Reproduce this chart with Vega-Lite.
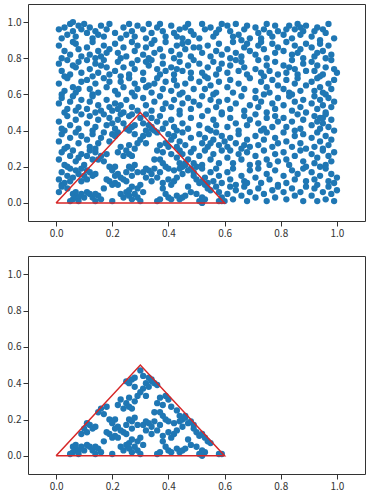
{
"$schema":"https://vega.github.io/schema/vega-lite/v6.json",
"padding":{"left":6,"top":3,"right":8,"bottom":4},
"spacing":16,
"config":{"view":{"stroke":"#333","strokeWidth":1},"axis":{"grid":false,"domain":false,"tickColor":"#333","tickSize":5,"labelColor":"#333","labelFont":"Noto Sans CJK JP","labelFontSize":10,"labelPadding":2}},
"datasets":{
"tri":[{"i":0,"x":0,"y":0},{"i":1,"x":0.3,"y":0.5},{"i":2,"x":0.6,"y":0},{"i":3,"x":0,"y":0}],
"pts":[
{"x":0.30,"y":0.47},{"x":0.31,"y":0.44},{"x":0.33,"y":0.43},{"x":0.34,"y":0.41},{"x":0.35,"y":0.40},{"x":0.32,"y":0.40},{"x":0.33,"y":0.38},{"x":0.31,"y":0.37},{"x":0.30,"y":0.35},{"x":0.29,"y":0.33},{"x":0.32,"y":0.33},{"x":0.34,"y":0.42},{"x":0.36,"y":0.39},{"x":0.27,"y":0.42},{"x":0.26,"y":0.40},{"x":0.28,"y":0.43},{"x":0.25,"y":0.41},{"x":0.28,"y":0.38},
{"x":0.37,"y":0.32},{"x":0.39,"y":0.33},{"x":0.40,"y":0.31},{"x":0.38,"y":0.28},{"x":0.41,"y":0.27},{"x":0.36,"y":0.29},{"x":0.35,"y":0.24},
{"x":0.23,"y":0.31},{"x":0.25,"y":0.29},{"x":0.24,"y":0.26},{"x":0.26,"y":0.27},{"x":0.27,"y":0.26},{"x":0.28,"y":0.30},{"x":0.26,"y":0.32},{"x":0.22,"y":0.28},
{"x":0.16,"y":0.26},{"x":0.17,"y":0.23},{"x":0.18,"y":0.27},{"x":0.15,"y":0.24},
{"x":0.10,"y":0.15},{"x":0.11,"y":0.18},{"x":0.12,"y":0.17},{"x":0.13,"y":0.15},{"x":0.14,"y":0.16},{"x":0.09,"y":0.12},{"x":0.11,"y":0.13},
{"x":0.19,"y":0.12},{"x":0.20,"y":0.10},{"x":0.18,"y":0.13},{"x":0.21,"y":0.11},{"x":0.17,"y":0.08},
{"x":0.06,"y":0.02},{"x":0.07,"y":0.04},{"x":0.08,"y":0.03},{"x":0.06,"y":0.05},{"x":0.09,"y":0.05},{"x":0.05,"y":0.01},{"x":0.10,"y":0.03},{"x":0.08,"y":0.01},{"x":0.07,"y":0.06},{"x":0.11,"y":0.06},{"x":0.12,"y":0.05},
{"x":0.13,"y":0.03},{"x":0.14,"y":0.01},{"x":0.15,"y":0.04},{"x":0.16,"y":0.02},{"x":0.14,"y":0.05},{"x":0.20,"y":0.01},
{"x":0.23,"y":0.05},{"x":0.24,"y":0.03},{"x":0.25,"y":0.06},{"x":0.26,"y":0.04},{"x":0.27,"y":0.02},{"x":0.28,"y":0.05},{"x":0.29,"y":0.08},{"x":0.30,"y":0.10},{"x":0.27,"y":0.09},{"x":0.25,"y":0.12},{"x":0.24,"y":0.13},{"x":0.22,"y":0.10},{"x":0.26,"y":0.07},{"x":0.29,"y":0.03},{"x":0.31,"y":0.06},{"x":0.30,"y":0.01},
{"x":0.31,"y":0.17},{"x":0.32,"y":0.19},{"x":0.33,"y":0.18},{"x":0.34,"y":0.16},{"x":0.35,"y":0.19},{"x":0.32,"y":0.14},{"x":0.34,"y":0.12},{"x":0.36,"y":0.14},{"x":0.37,"y":0.17},{"x":0.38,"y":0.11},
{"x":0.36,"y":0.01},{"x":0.37,"y":0.02},{"x":0.39,"y":0.05},{"x":0.40,"y":0.03},{"x":0.41,"y":0.02},{"x":0.43,"y":0.04},{"x":0.44,"y":0.02},{"x":0.45,"y":0.03},{"x":0.38,"y":0.08},{"x":0.41,"y":0.10},{"x":0.42,"y":0.12},{"x":0.40,"y":0.13},
{"x":0.43,"y":0.25},{"x":0.44,"y":0.22},{"x":0.45,"y":0.20},{"x":0.46,"y":0.21},{"x":0.44,"y":0.19},{"x":0.47,"y":0.18},{"x":0.45,"y":0.16},{"x":0.43,"y":0.14},{"x":0.48,"y":0.19},{"x":0.46,"y":0.22},{"x":0.42,"y":0.18},
{"x":0.50,"y":0.13},{"x":0.51,"y":0.11},{"x":0.52,"y":0.12},{"x":0.53,"y":0.10},{"x":0.54,"y":0.08},{"x":0.50,"y":0.05},{"x":0.52,"y":0.03},{"x":0.53,"y":0.02},{"x":0.51,"y":0.01},{"x":0.55,"y":0.07},{"x":0.49,"y":0.15},{"x":0.49,"y":0.17},
{"x":0.52,"y":0.00},{"x":0.59,"y":0.01},{"x":0.58,"y":0.01},
{"x":0.19,"y":0.20},{"x":0.21,"y":0.20},{"x":0.20,"y":0.18},{"x":0.22,"y":0.16},{"x":0.23,"y":0.14},{"x":0.21,"y":0.15},
{"x":0.26,"y":0.20},{"x":0.27,"y":0.19},{"x":0.28,"y":0.21},{"x":0.29,"y":0.17},{"x":0.27,"y":0.15},{"x":0.25,"y":0.17},
{"x":0.38,"y":0.22},{"x":0.39,"y":0.20},{"x":0.37,"y":0.24},{"x":0.40,"y":0.19},
{"x":0.47,"y":0.09},{"x":0.48,"y":0.06},{"x":0.46,"y":0.04},
{"x":0.01,"y":0.96},{"x":0.03,"y":0.97},{"x":0.05,"y":0.99},{"x":0.06,"y":0.95},{"x":0.08,"y":0.98},{"x":0.09,"y":0.96},{"x":0.04,"y":0.93},{"x":0.07,"y":0.92},{"x":0.02,"y":0.91},{"x":0.10,"y":0.99},{"x":0.06,"y":1.00},
{"x":0.11,"y":0.94},{"x":0.12,"y":0.97},{"x":0.14,"y":0.95},{"x":0.16,"y":0.98},{"x":0.18,"y":0.96},{"x":0.13,"y":0.91},{"x":0.17,"y":0.92},{"x":0.19,"y":0.99},{"x":0.15,"y":0.93},
{"x":0.21,"y":0.94},{"x":0.24,"y":0.97},{"x":0.26,"y":0.99},{"x":0.27,"y":0.95},{"x":0.29,"y":0.98},{"x":0.23,"y":0.91},{"x":0.28,"y":0.92},{"x":0.25,"y":0.93},
{"x":0.31,"y":0.96},{"x":0.33,"y":0.99},{"x":0.34,"y":0.94},{"x":0.36,"y":0.97},{"x":0.38,"y":0.95},{"x":0.39,"y":0.92},{"x":0.32,"y":0.91},{"x":0.37,"y":0.99},{"x":0.35,"y":0.90},
{"x":0.41,"y":0.98},{"x":0.42,"y":0.94},{"x":0.44,"y":0.96},{"x":0.45,"y":0.91},{"x":0.47,"y":0.99},{"x":0.48,"y":0.95},{"x":0.43,"y":0.92},{"x":0.49,"y":0.93},{"x":0.46,"y":0.97},
{"x":0.51,"y":0.91},{"x":0.53,"y":0.96},{"x":0.52,"y":0.99},{"x":0.55,"y":0.97},{"x":0.57,"y":0.94},{"x":0.59,"y":0.99},{"x":0.56,"y":0.92},{"x":0.58,"y":0.96},
{"x":0.61,"y":0.98},{"x":0.62,"y":0.95},{"x":0.64,"y":0.99},{"x":0.65,"y":0.93},{"x":0.67,"y":0.96},{"x":0.69,"y":0.91},{"x":0.63,"y":0.92},{"x":0.68,"y":0.98},{"x":0.66,"y":0.90},
{"x":0.71,"y":0.97},{"x":0.72,"y":0.94},{"x":0.74,"y":0.96},{"x":0.75,"y":0.99},{"x":0.77,"y":0.92},{"x":0.78,"y":0.98},{"x":0.79,"y":0.95},{"x":0.73,"y":0.91},{"x":0.76,"y":0.94},
{"x":0.81,"y":0.93},{"x":0.83,"y":0.98},{"x":0.85,"y":0.96},{"x":0.86,"y":0.99},{"x":0.87,"y":0.97},{"x":0.88,"y":0.95},{"x":0.89,"y":0.98},{"x":0.84,"y":0.91},{"x":0.82,"y":0.96},{"x":0.87,"y":0.93},
{"x":0.91,"y":0.92},{"x":0.93,"y":0.97},{"x":0.95,"y":0.96},{"x":0.97,"y":0.99},{"x":0.96,"y":0.94},{"x":0.99,"y":0.91},{"x":0.92,"y":0.95},{"x":0.94,"y":0.90},
{"x":0.01,"y":0.87},{"x":0.03,"y":0.84},{"x":0.05,"y":0.82},{"x":0.07,"y":0.88},{"x":0.08,"y":0.85},{"x":0.09,"y":0.81},{"x":0.02,"y":0.80},{"x":0.06,"y":0.89},
{"x":0.11,"y":0.86},{"x":0.12,"y":0.82},{"x":0.13,"y":0.89},{"x":0.15,"y":0.84},{"x":0.16,"y":0.81},{"x":0.17,"y":0.87},{"x":0.19,"y":0.85},{"x":0.14,"y":0.80},{"x":0.18,"y":0.83},
{"x":0.21,"y":0.88},{"x":0.22,"y":0.83},{"x":0.24,"y":0.86},{"x":0.25,"y":0.81},{"x":0.27,"y":0.89},{"x":0.28,"y":0.84},{"x":0.23,"y":0.80},{"x":0.29,"y":0.87},
{"x":0.31,"y":0.82},{"x":0.32,"y":0.86},{"x":0.34,"y":0.88},{"x":0.35,"y":0.83},{"x":0.37,"y":0.85},{"x":0.38,"y":0.81},{"x":0.39,"y":0.89},{"x":0.33,"y":0.80},
{"x":0.41,"y":0.84},{"x":0.43,"y":0.87},{"x":0.44,"y":0.82},{"x":0.46,"y":0.85},{"x":0.47,"y":0.89},{"x":0.48,"y":0.81},{"x":0.42,"y":0.80},{"x":0.49,"y":0.86},{"x":0.45,"y":0.88},
{"x":0.52,"y":0.83},{"x":0.54,"y":0.87},{"x":0.55,"y":0.81},{"x":0.57,"y":0.84},{"x":0.58,"y":0.88},{"x":0.51,"y":0.86},{"x":0.59,"y":0.82},
{"x":0.61,"y":0.85},{"x":0.63,"y":0.89},{"x":0.64,"y":0.83},{"x":0.66,"y":0.81},{"x":0.67,"y":0.86},{"x":0.68,"y":0.88},{"x":0.69,"y":0.84},{"x":0.62,"y":0.80},
{"x":0.71,"y":0.82},{"x":0.72,"y":0.87},{"x":0.74,"y":0.85},{"x":0.75,"y":0.80},{"x":0.77,"y":0.88},{"x":0.78,"y":0.83},{"x":0.73,"y":0.89},{"x":0.79,"y":0.86},
{"x":0.81,"y":0.84},{"x":0.82,"y":0.89},{"x":0.84,"y":0.82},{"x":0.85,"y":0.87},{"x":0.87,"y":0.85},{"x":0.88,"y":0.80},{"x":0.89,"y":0.88},{"x":0.86,"y":0.83},
{"x":0.91,"y":0.86},{"x":0.92,"y":0.81},{"x":0.94,"y":0.88},{"x":0.95,"y":0.84},{"x":0.97,"y":0.87},{"x":0.98,"y":0.82},{"x":0.96,"y":0.80},{"x":0.93,"y":0.83},
{"x":0.01,"y":0.77},{"x":0.02,"y":0.73},{"x":0.04,"y":0.79},{"x":0.05,"y":0.71},{"x":0.07,"y":0.75},{"x":0.08,"y":0.78},{"x":0.09,"y":0.72},{"x":0.03,"y":0.70},{"x":0.06,"y":0.76},
{"x":0.11,"y":0.79},{"x":0.12,"y":0.74},{"x":0.14,"y":0.77},{"x":0.15,"y":0.72},{"x":0.17,"y":0.79},{"x":0.18,"y":0.75},{"x":0.19,"y":0.71},{"x":0.13,"y":0.70},{"x":0.16,"y":0.76},
{"x":0.21,"y":0.73},{"x":0.22,"y":0.78},{"x":0.24,"y":0.75},{"x":0.26,"y":0.71},{"x":0.27,"y":0.77},{"x":0.28,"y":0.74},{"x":0.23,"y":0.70},{"x":0.29,"y":0.79},
{"x":0.31,"y":0.72},{"x":0.33,"y":0.76},{"x":0.34,"y":0.79},{"x":0.36,"y":0.74},{"x":0.37,"y":0.71},{"x":0.38,"y":0.77},{"x":0.39,"y":0.73},{"x":0.32,"y":0.78},
{"x":0.41,"y":0.75},{"x":0.42,"y":0.71},{"x":0.44,"y":0.78},{"x":0.45,"y":0.73},{"x":0.47,"y":0.76},{"x":0.48,"y":0.72},{"x":0.49,"y":0.79},{"x":0.43,"y":0.74},
{"x":0.51,"y":0.77},{"x":0.52,"y":0.72},{"x":0.54,"y":0.75},{"x":0.56,"y":0.78},{"x":0.57,"y":0.71},{"x":0.58,"y":0.74},{"x":0.59,"y":0.77},{"x":0.53,"y":0.70},
{"x":0.61,"y":0.72},{"x":0.62,"y":0.76},{"x":0.64,"y":0.79},{"x":0.65,"y":0.73},{"x":0.67,"y":0.75},{"x":0.68,"y":0.71},{"x":0.66,"y":0.78},
{"x":0.71,"y":0.74},{"x":0.72,"y":0.79},{"x":0.73,"y":0.72},{"x":0.75,"y":0.76},{"x":0.76,"y":0.73},{"x":0.78,"y":0.78},{"x":0.79,"y":0.71},{"x":0.74,"y":0.70},
{"x":0.81,"y":0.76},{"x":0.82,"y":0.72},{"x":0.84,"y":0.79},{"x":0.85,"y":0.74},{"x":0.86,"y":0.71},{"x":0.88,"y":0.77},{"x":0.89,"y":0.73},{"x":0.83,"y":0.75},
{"x":0.91,"y":0.78},{"x":0.92,"y":0.73},{"x":0.93,"y":0.76},{"x":0.95,"y":0.71},{"x":0.96,"y":0.75},{"x":0.98,"y":0.79},{"x":0.99,"y":0.74},{"x":1.00,"y":0.72},{"x":0.94,"y":0.70},
{"x":0.01,"y":0.66},{"x":0.03,"y":0.62},{"x":0.04,"y":0.69},{"x":0.06,"y":0.64},{"x":0.07,"y":0.61},{"x":0.09,"y":0.67},{"x":0.02,"y":0.60},{"x":0.08,"y":0.63},
{"x":0.11,"y":0.68},{"x":0.12,"y":0.63},{"x":0.14,"y":0.66},{"x":0.15,"y":0.61},{"x":0.17,"y":0.69},{"x":0.18,"y":0.64},{"x":0.13,"y":0.60},{"x":0.19,"y":0.67},
{"x":0.21,"y":0.62},{"x":0.23,"y":0.67},{"x":0.24,"y":0.64},{"x":0.26,"y":0.69},{"x":0.27,"y":0.61},{"x":0.28,"y":0.66},{"x":0.29,"y":0.63},{"x":0.22,"y":0.60},
{"x":0.31,"y":0.68},{"x":0.32,"y":0.64},{"x":0.34,"y":0.61},{"x":0.35,"y":0.66},{"x":0.36,"y":0.69},{"x":0.38,"y":0.63},{"x":0.39,"y":0.67},{"x":0.33,"y":0.65},
{"x":0.41,"y":0.62},{"x":0.42,"y":0.68},{"x":0.43,"y":0.65},{"x":0.45,"y":0.61},{"x":0.46,"y":0.66},{"x":0.48,"y":0.69},{"x":0.49,"y":0.63},{"x":0.44,"y":0.60},
{"x":0.51,"y":0.67},{"x":0.53,"y":0.63},{"x":0.54,"y":0.69},{"x":0.55,"y":0.65},{"x":0.57,"y":0.61},{"x":0.58,"y":0.67},{"x":0.56,"y":0.60},
{"x":0.61,"y":0.64},{"x":0.62,"y":0.68},{"x":0.63,"y":0.61},{"x":0.65,"y":0.66},{"x":0.67,"y":0.63},{"x":0.69,"y":0.69},
{"x":0.71,"y":0.62},{"x":0.73,"y":0.67},{"x":0.75,"y":0.64},{"x":0.76,"y":0.61},{"x":0.77,"y":0.68},{"x":0.79,"y":0.65},{"x":0.74,"y":0.60},
{"x":0.81,"y":0.63},{"x":0.82,"y":0.68},{"x":0.83,"y":0.61},{"x":0.85,"y":0.66},{"x":0.86,"y":0.69},{"x":0.87,"y":0.62},{"x":0.89,"y":0.65},{"x":0.84,"y":0.60},
{"x":0.91,"y":0.67},{"x":0.92,"y":0.62},{"x":0.93,"y":0.69},{"x":0.94,"y":0.64},{"x":0.95,"y":0.61},{"x":0.97,"y":0.66},{"x":0.98,"y":0.63},{"x":0.99,"y":0.68},{"x":0.96,"y":0.60},
{"x":0.01,"y":0.55},{"x":0.02,"y":0.58},{"x":0.04,"y":0.52},{"x":0.05,"y":0.56},{"x":0.06,"y":0.59},{"x":0.08,"y":0.53},{"x":0.09,"y":0.57},{"x":0.03,"y":0.50},{"x":0.07,"y":0.51},
{"x":0.11,"y":0.52},{"x":0.12,"y":0.56},{"x":0.13,"y":0.59},{"x":0.15,"y":0.54},{"x":0.16,"y":0.51},{"x":0.18,"y":0.57},{"x":0.19,"y":0.53},{"x":0.14,"y":0.50},
{"x":0.20,"y":0.51},{"x":0.21,"y":0.55},{"x":0.22,"y":0.52},{"x":0.23,"y":0.54},{"x":0.24,"y":0.50},{"x":0.25,"y":0.57},{"x":0.27,"y":0.53},{"x":0.28,"y":0.59},{"x":0.29,"y":0.51},
{"x":0.31,"y":0.58},{"x":0.32,"y":0.54},{"x":0.34,"y":0.51},{"x":0.35,"y":0.56},{"x":0.37,"y":0.59},{"x":0.38,"y":0.52},{"x":0.39,"y":0.55},
{"x":0.41,"y":0.53},{"x":0.42,"y":0.57},{"x":0.44,"y":0.51},{"x":0.45,"y":0.55},{"x":0.47,"y":0.58},{"x":0.48,"y":0.52},{"x":0.49,"y":0.56},
{"x":0.51,"y":0.54},{"x":0.52,"y":0.59},{"x":0.54,"y":0.51},{"x":0.55,"y":0.57},{"x":0.57,"y":0.53},{"x":0.58,"y":0.56},{"x":0.59,"y":0.50},
{"x":0.61,"y":0.57},{"x":0.62,"y":0.52},{"x":0.64,"y":0.55},{"x":0.66,"y":0.59},{"x":0.67,"y":0.51},{"x":0.69,"y":0.54},
{"x":0.71,"y":0.58},{"x":0.72,"y":0.53},{"x":0.73,"y":0.56},{"x":0.75,"y":0.50},{"x":0.77,"y":0.55},{"x":0.78,"y":0.52},{"x":0.79,"y":0.58},
{"x":0.81,"y":0.54},{"x":0.83,"y":0.59},{"x":0.84,"y":0.51},{"x":0.85,"y":0.56},{"x":0.87,"y":0.53},{"x":0.88,"y":0.57},{"x":0.89,"y":0.50},
{"x":0.91,"y":0.55},{"x":0.92,"y":0.59},{"x":0.93,"y":0.52},{"x":0.94,"y":0.57},{"x":0.95,"y":0.54},{"x":0.96,"y":0.50},{"x":0.97,"y":0.58},{"x":0.98,"y":0.53},{"x":0.99,"y":0.56},{"x":0.95,"y":0.47},
{"x":0.01,"y":0.45},{"x":0.02,"y":0.41},{"x":0.04,"y":0.48},{"x":0.05,"y":0.43},{"x":0.07,"y":0.46},{"x":0.08,"y":0.41},{"x":0.09,"y":0.49},{"x":0.03,"y":0.40},
{"x":0.11,"y":0.44},{"x":0.12,"y":0.48},{"x":0.14,"y":0.42},{"x":0.15,"y":0.46},{"x":0.17,"y":0.49},{"x":0.18,"y":0.43},{"x":0.19,"y":0.47},{"x":0.13,"y":0.40},
{"x":0.21,"y":0.41},{"x":0.22,"y":0.46},{"x":0.23,"y":0.49},{"x":0.24,"y":0.44},{"x":0.26,"y":0.48},{"x":0.27,"y":0.49},{"x":0.20,"y":0.44},
{"x":0.34,"y":0.47},{"x":0.36,"y":0.45},{"x":0.38,"y":0.41},{"x":0.37,"y":0.48},{"x":0.39,"y":0.44},{"x":0.32,"y":0.49},
{"x":0.41,"y":0.46},{"x":0.42,"y":0.42},{"x":0.44,"y":0.49},{"x":0.45,"y":0.44},{"x":0.47,"y":0.41},{"x":0.48,"y":0.47},{"x":0.43,"y":0.40},
{"x":0.51,"y":0.43},{"x":0.52,"y":0.48},{"x":0.54,"y":0.41},{"x":0.56,"y":0.46},{"x":0.57,"y":0.43},{"x":0.59,"y":0.49},{"x":0.55,"y":0.40},
{"x":0.61,"y":0.42},{"x":0.62,"y":0.47},{"x":0.64,"y":0.44},{"x":0.65,"y":0.40},{"x":0.67,"y":0.48},{"x":0.68,"y":0.43},{"x":0.69,"y":0.46},
{"x":0.71,"y":0.49},{"x":0.72,"y":0.44},{"x":0.74,"y":0.41},{"x":0.75,"y":0.47},{"x":0.77,"y":0.42},{"x":0.78,"y":0.48},{"x":0.79,"y":0.45},{"x":0.73,"y":0.40},
{"x":0.81,"y":0.47},{"x":0.82,"y":0.42},{"x":0.84,"y":0.45},{"x":0.86,"y":0.49},{"x":0.87,"y":0.41},{"x":0.88,"y":0.46},{"x":0.85,"y":0.40},
{"x":0.91,"y":0.43},{"x":0.92,"y":0.48},{"x":0.93,"y":0.45},{"x":0.94,"y":0.41},{"x":0.95,"y":0.44},{"x":0.96,"y":0.49},{"x":0.97,"y":0.42},{"x":0.98,"y":0.46},{"x":0.99,"y":0.40},{"x":0.94,"y":0.47},
{"x":0.01,"y":0.34},{"x":0.02,"y":0.38},{"x":0.04,"y":0.31},{"x":0.05,"y":0.36},{"x":0.07,"y":0.39},{"x":0.08,"y":0.33},{"x":0.09,"y":0.37},{"x":0.03,"y":0.30},
{"x":0.11,"y":0.35},{"x":0.12,"y":0.31},{"x":0.13,"y":0.38},{"x":0.15,"y":0.33},{"x":0.16,"y":0.36},{"x":0.17,"y":0.39},{"x":0.14,"y":0.30},
{"x":0.19,"y":0.34},{"x":0.20,"y":0.38},{"x":0.22,"y":0.39},{"x":0.21,"y":0.37},
{"x":0.40,"y":0.38},{"x":0.41,"y":0.35},{"x":0.43,"y":0.31},{"x":0.42,"y":0.37},
{"x":0.44,"y":0.34},{"x":0.45,"y":0.39},{"x":0.46,"y":0.32},{"x":0.48,"y":0.36},{"x":0.49,"y":0.30},
{"x":0.51,"y":0.38},{"x":0.52,"y":0.33},{"x":0.53,"y":0.36},{"x":0.54,"y":0.31},{"x":0.56,"y":0.35},{"x":0.57,"y":0.39},{"x":0.58,"y":0.32},{"x":0.59,"y":0.37},{"x":0.55,"y":0.33},{"x":0.60,"y":0.34},
{"x":0.61,"y":0.31},{"x":0.62,"y":0.36},{"x":0.64,"y":0.33},{"x":0.65,"y":0.38},{"x":0.66,"y":0.30},{"x":0.68,"y":0.35},{"x":0.69,"y":0.31},{"x":0.67,"y":0.32},
{"x":0.71,"y":0.37},{"x":0.72,"y":0.32},{"x":0.74,"y":0.35},{"x":0.75,"y":0.39},{"x":0.77,"y":0.31},{"x":0.78,"y":0.36},{"x":0.79,"y":0.33},
{"x":0.81,"y":0.39},{"x":0.82,"y":0.34},{"x":0.84,"y":0.31},{"x":0.85,"y":0.37},{"x":0.87,"y":0.33},{"x":0.88,"y":0.38},{"x":0.89,"y":0.30},
{"x":0.91,"y":0.36},{"x":0.92,"y":0.31},{"x":0.93,"y":0.39},{"x":0.94,"y":0.34},{"x":0.96,"y":0.37},{"x":0.97,"y":0.32},{"x":0.98,"y":0.35},{"x":0.95,"y":0.30},
{"x":0.01,"y":0.24},{"x":0.02,"y":0.28},{"x":0.03,"y":0.21},{"x":0.05,"y":0.26},{"x":0.06,"y":0.29},{"x":0.07,"y":0.23},{"x":0.09,"y":0.27},{"x":0.10,"y":0.21},{"x":0.04,"y":0.20},
{"x":0.11,"y":0.26},{"x":0.12,"y":0.29},{"x":0.13,"y":0.24},{"x":0.14,"y":0.28},{"x":0.08,"y":0.25},
{"x":0.44,"y":0.29},{"x":0.45,"y":0.27},{"x":0.47,"y":0.24},{"x":0.48,"y":0.28},{"x":0.49,"y":0.22},
{"x":0.51,"y":0.26},{"x":0.52,"y":0.21},{"x":0.53,"y":0.29},{"x":0.55,"y":0.24},{"x":0.56,"y":0.27},{"x":0.58,"y":0.22},{"x":0.59,"y":0.29},{"x":0.50,"y":0.20},
{"x":0.61,"y":0.25},{"x":0.62,"y":0.29},{"x":0.63,"y":0.22},{"x":0.65,"y":0.27},{"x":0.66,"y":0.24},{"x":0.68,"y":0.28},{"x":0.69,"y":0.21},
{"x":0.71,"y":0.26},{"x":0.72,"y":0.22},{"x":0.74,"y":0.29},{"x":0.75,"y":0.24},{"x":0.76,"y":0.21},{"x":0.78,"y":0.27},{"x":0.79,"y":0.23},
{"x":0.81,"y":0.28},{"x":0.82,"y":0.24},{"x":0.83,"y":0.21},{"x":0.85,"y":0.26},{"x":0.87,"y":0.29},{"x":0.88,"y":0.23},{"x":0.89,"y":0.20},
{"x":0.91,"y":0.27},{"x":0.92,"y":0.22},{"x":0.93,"y":0.25},{"x":0.95,"y":0.29},{"x":0.96,"y":0.21},{"x":0.97,"y":0.26},{"x":0.98,"y":0.23},{"x":0.99,"y":0.28},{"x":0.94,"y":0.20},
{"x":0.01,"y":0.13},{"x":0.02,"y":0.17},{"x":0.03,"y":0.11},{"x":0.04,"y":0.15},{"x":0.05,"y":0.19},{"x":0.06,"y":0.14},{"x":0.07,"y":0.18},{"x":0.08,"y":0.16},{"x":0.02,"y":0.10},{"x":0.09,"y":0.19},{"x":0.05,"y":0.12},
{"x":0.53,"y":0.14},{"x":0.54,"y":0.11},{"x":0.52,"y":0.19},{"x":0.55,"y":0.17},{"x":0.56,"y":0.12},{"x":0.57,"y":0.19},{"x":0.58,"y":0.15},{"x":0.59,"y":0.11},
{"x":0.61,"y":0.17},{"x":0.62,"y":0.13},{"x":0.63,"y":0.19},{"x":0.64,"y":0.10},{"x":0.66,"y":0.15},{"x":0.67,"y":0.12},{"x":0.69,"y":0.18},{"x":0.68,"y":0.11},
{"x":0.71,"y":0.14},{"x":0.72,"y":0.19},{"x":0.73,"y":0.11},{"x":0.75,"y":0.16},{"x":0.76,"y":0.13},{"x":0.78,"y":0.18},{"x":0.79,"y":0.10},
{"x":0.81,"y":0.15},{"x":0.82,"y":0.11},{"x":0.84,"y":0.18},{"x":0.85,"y":0.13},{"x":0.86,"y":0.16},{"x":0.88,"y":0.19},{"x":0.89,"y":0.12},
{"x":0.91,"y":0.17},{"x":0.92,"y":0.13},{"x":0.93,"y":0.10},{"x":0.94,"y":0.15},{"x":0.96,"y":0.19},{"x":0.97,"y":0.12},{"x":0.98,"y":0.16},{"x":0.99,"y":0.11},{"x":1.00,"y":0.14},
{"x":0.01,"y":0.06},{"x":0.02,"y":0.09},{"x":0.04,"y":0.08},
{"x":0.58,"y":0.06},{"x":0.59,"y":0.03},{"x":0.57,"y":0.09},{"x":0.60,"y":0.01},
{"x":0.61,"y":0.05},{"x":0.62,"y":0.09},{"x":0.63,"y":0.02},{"x":0.64,"y":0.07},{"x":0.66,"y":0.04},{"x":0.67,"y":0.09},{"x":0.68,"y":0.01},{"x":0.69,"y":0.06},
{"x":0.71,"y":0.03},{"x":0.72,"y":0.08},{"x":0.74,"y":0.05},{"x":0.75,"y":0.01},{"x":0.77,"y":0.07},{"x":0.78,"y":0.03},{"x":0.79,"y":0.09},
{"x":0.81,"y":0.06},{"x":0.82,"y":0.02},{"x":0.84,"y":0.08},{"x":0.85,"y":0.04},{"x":0.87,"y":0.06},{"x":0.88,"y":0.01},{"x":0.89,"y":0.09},
{"x":0.91,"y":0.04},{"x":0.92,"y":0.08},{"x":0.93,"y":0.01},{"x":0.95,"y":0.06},{"x":0.96,"y":0.02},{"x":0.97,"y":0.09},{"x":0.98,"y":0.05},{"x":0.99,"y":0.01},{"x":1.00,"y":0.07}
]},
"vconcat":[
{"width":337,"height":217,
 "layer":[
  {"data":{"name":"pts"},"mark":{"type":"circle","size":40,"color":"#1f77b4","opacity":1},
   "encoding":{
    "x":{"field":"x","type":"quantitative","scale":{"domain":[-0.1,1.1],"nice":false,"zero":false},"axis":{"values":[0,0.2,0.4,0.6,0.8,1],"format":".1f","title":null}},
    "y":{"field":"y","type":"quantitative","scale":{"domain":[-0.1,1.1],"nice":false,"zero":false},"axis":{"values":[0,0.2,0.4,0.6,0.8,1],"format":".1f","title":null}}}},
  {"data":{"name":"tri"},"mark":{"type":"line","color":"#d62728","strokeWidth":1.5},
   "encoding":{"x":{"field":"x","type":"quantitative"},"y":{"field":"y","type":"quantitative"},"order":{"field":"i","type":"quantitative"}}}
 ]},
{"width":337,"height":218,
 "layer":[
  {"data":{"name":"pts"},"transform":[{"filter":"datum.y >= 0 && datum.y <= datum.x*5/3 + 0.000001 && datum.y <= (0.6-datum.x)*5/3 + 0.000001"}],
   "mark":{"type":"circle","size":40,"color":"#1f77b4","opacity":1},
   "encoding":{
    "x":{"field":"x","type":"quantitative","scale":{"domain":[-0.1,1.1],"nice":false,"zero":false},"axis":{"values":[0,0.2,0.4,0.6,0.8,1],"format":".1f","title":null}},
    "y":{"field":"y","type":"quantitative","scale":{"domain":[-0.1,1.1],"nice":false,"zero":false},"axis":{"values":[0,0.2,0.4,0.6,0.8,1],"format":".1f","title":null}}}},
  {"data":{"name":"tri"},"mark":{"type":"line","color":"#d62728","strokeWidth":1.5},
   "encoding":{"x":{"field":"x","type":"quantitative"},"y":{"field":"y","type":"quantitative"},"order":{"field":"i","type":"quantitative"}}}
 ]}
]
}
